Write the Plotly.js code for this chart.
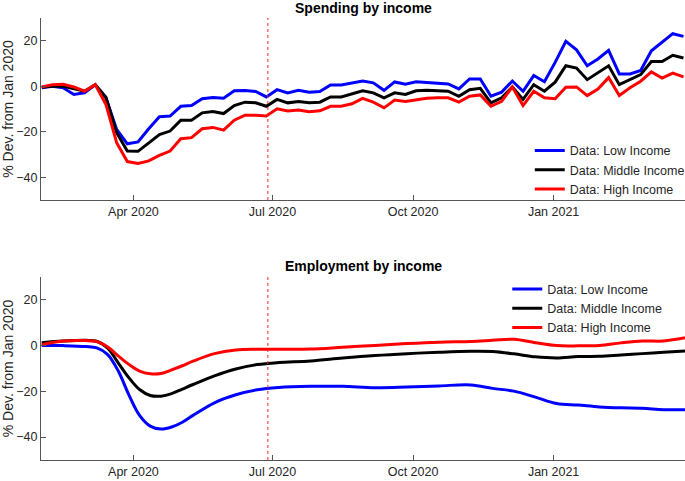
<!DOCTYPE html>
<html>
<head>
<meta charset="utf-8">
<script src="https://cdn.plot.ly/plotly-3.0.1.min.js"></script>
<style>
  body { margin: 0; background: #fff; }
  #chart { width: 685px; height: 481px; }
</style>
</head>
<body>
<div id="chart"></div>
<script>
// weekly spending, % deviation from Jan 2020 (first week = 2020-02-01)
const spendLow = [-0.7, 0, -0.7, -3.6, -2.9, 0.6, -5.1, -19, -25.3, -24.5,
  -18.7, -13.4, -13.1, -8.8, -8.5, -5.5, -5, -5.3, -2, -1.9,
  -2.3, -4.7, -1.5, -2.9, -1.8, -2.6, -2.3, 0.6, 0.6, 1.3,
  2.3, 1.5, -1.8, 1.9, 0.9, 2, 1.6, 1.2, 1, -1.2,
  3.2, 3.2, -4.4, -2.6, 2.3, -2.2, 4.7, 2, 10.5, 19.7,
  16, 9, 12, 15.8, 5.4, 5.4, 6.9, 15.6, 19.3, 23.1, 21.9];
const spendMid = [-0.4, 0.1, 0, -1.2, -2.2, 0.7, -4.8, -20.4, -28.5, -28.6,
  -24.8, -21.2, -19.7, -14.9, -14.9, -11.7, -11.1, -12, -8.5, -7,
  -7.3, -8.8, -5.8, -7.3, -6.7, -7.3, -7, -4.7, -4.7, -3.2,
  -2, -2.9, -5.1, -2.9, -3.6, -2, -1.8, -2, -2.2, -4.4,
  -1.5, -0.9, -7.3, -5.1, -0.3, -5.8, 0.7, -2.2, 1.8, 9,
  8, 2.9, 5.8, 9, 0.7, 2.9, 5.1, 10.9, 10.9, 13.6, 12.4];
const spendHigh = [-0.3, 0.7, 0.9, -0.3, -2.2, 0.7, -8, -24.8, -33.1, -33.9,
  -32.8, -30.4, -28.5, -23.1, -22.6, -18.7, -18.1, -19.3, -14.9, -12.7,
  -12.7, -13.1, -9.9, -10.9, -10.5, -11.2, -10.8, -8.8, -8.8, -7.7,
  -5.3, -7, -9.5, -6.1, -6.7, -6.1, -5.3, -5.1, -5.1, -7,
  -4.4, -3.8, -8.8, -6.6, -0.3, -8.5, -2.2, -5.1, -5.5, -0.4,
  -0.3, -4.1, -1.2, 3.8, -4.1, -0.7, 2.2, 6.3, 3.6, 5.8, 4.1];

// employment, % deviation from Jan 2020
const empDates = ['2020-02-01', '2020-02-15', '2020-03-01', '2020-03-08', '2020-03-15',
  '2020-03-22', '2020-03-29', '2020-04-05', '2020-04-12', '2020-04-19',
  '2020-04-26', '2020-05-03', '2020-05-10', '2020-05-24', '2020-06-07',
  '2020-06-21', '2020-07-05', '2020-07-26', '2020-08-16', '2020-09-06',
  '2020-09-27', '2020-10-18', '2020-11-08', '2020-11-22', '2020-12-06',
  '2020-12-20', '2021-01-03', '2021-01-17', '2021-01-31', '2021-02-14',
  '2021-02-28', '2021-03-14', '2021-03-28'];
const empLow = [0.1, 0, -0.4, -1, -3.8, -11, -21.5, -30.5, -35.2, -36.5,
  -35.6, -33.5, -30.5, -25, -21.5, -19.3, -18.3, -17.8, -17.8, -18.4,
  -18.1, -17.6, -17.2, -18.7, -19.9, -22.5, -25.3, -26, -26.8, -27.2,
  -27.4, -28, -28];
const empMid = [1.3, 2, 2.3, 1.9, -1, -7.5, -14, -19.2, -21.8, -22.1,
  -21, -19, -17, -13.2, -10.2, -8.3, -7.4, -6.7, -5.4, -4.3,
  -3.5, -2.9, -2.5, -2.6, -3.6, -4.9, -5.4, -4.8, -4.7, -4.1,
  -3.5, -2.9, -2.3];
const empHigh = [0.4, 2, 2.2, 1.8, -0.5, -4.5, -8.2, -11.1, -12.3, -12.2,
  -10.6, -8.8, -6.8, -3.5, -1.9, -1.6, -1.6, -1.5, -0.7, 0.1,
  0.9, 1.5, 1.8, 2.3, 2.8, 1.3, 0, -0.1, 0.1, 1.2,
  2, 2, 3.4];

const seriesNames = ['Data: Low Income', 'Data: Middle Income', 'Data: High Income'];
const seriesColors = ['#0000ff', '#000000', '#ff0000'];
const tickDates = ['2020-04-01', '2020-07-01', '2020-10-01', '2021-01-01'];
const tickLabels = ['Apr 2020', 'Jul 2020', 'Oct 2020', 'Jan 2021'];
const yTicks = [-40, -20, 0, 20];
const markerDate = '2020-06-28';

// weekly x positions for the spending series
const spendDates = spendLow.map((_, i) =>
  new Date(Date.UTC(2020, 1, 1 + 7 * i)).toISOString().slice(0, 10));

const FONT = 'Liberation Sans, Arial, Helvetica, sans-serif';

const traces = [];
[spendLow, spendMid, spendHigh].forEach((ys, k) => {
  traces.push({
    x: spendDates, y: ys, type: 'scatter', mode: 'lines',
    name: seriesNames[k], line: { color: seriesColors[k], width: 3 },
    xaxis: 'x', yaxis: 'y', legend: 'legend',
  });
});
[empLow, empMid, empHigh].forEach((ys, k) => {
  traces.push({
    x: empDates, y: ys, type: 'scatter', mode: 'lines',
    name: seriesNames[k], line: { color: seriesColors[k], width: 3, shape: 'spline', smoothing: 1 },
    xaxis: 'x2', yaxis: 'y2', legend: 'legend2',
  });
});

const axisBase = {
  showline: true, linecolor: '#555', linewidth: 1, mirror: false,
  ticks: 'inside', ticklen: 5, tickcolor: '#555', tickwidth: 1,
  showgrid: false, zeroline: false, automargin: false,
  tickfont: { size: 12.5, color: '#262626' },
};
const xBase = {
  ...axisBase, type: 'date', range: ['2020-01-31 12:00', '2021-03-28'],
  tickmode: 'array', tickvals: tickDates, ticktext: tickLabels,
};
const yBase = {
  ...axisBase, range: [-50, 30], tickmode: 'array', tickvals: yTicks,
  title: { text: '% Dev. from Jan 2020', font: { size: 14, color: '#262626' } },
};

const legendBase = {
  xanchor: 'left', yanchor: 'middle', bgcolor: 'rgba(0,0,0,0)',
  font: { size: 12.5, color: '#262626' },
};

const vline = (xr, yr) => ({
  type: 'line', xref: xr, yref: yr + ' domain', x0: markerDate, x1: markerDate,
  y0: 0, y1: 1, line: { color: '#ff2020', width: 1, dash: 'dot' },
});

const layout = {
  width: 685, height: 481,
  // legends sit inside the plots, so keep them from pushing the margins
  margin: { l: 41, r: 0, t: 0, b: 0, autoexpand: false },
  paper_bgcolor: '#fff', plot_bgcolor: '#fff',
  font: { family: FONT, color: '#262626' },
  showlegend: true,
  xaxis: { ...xBase, anchor: 'y', domain: [0, 1] },
  yaxis: { ...yBase, anchor: 'x', domain: [0.5842, 0.9626] },
  xaxis2: { ...xBase, anchor: 'y2', domain: [0, 1] },
  yaxis2: { ...yBase, anchor: 'x2', domain: [0.0437, 0.4241] },
  legend: { ...legendBase, x: 0.759, y: 0.6466 },
  legend2: { ...legendBase, x: 0.724, y: 0.359 },
  shapes: [vline('x', 'y'), vline('x2', 'y2')],
  annotations: [
    { text: '<b>Spending by income</b>', xref: 'paper', yref: 'paper', x: 0.5, y: 0.983,
      yanchor: 'middle', showarrow: false, font: { size: 14, color: '#000' } },
    { text: '<b>Employment by income</b>', xref: 'paper', yref: 'paper', x: 0.5, y: 0.447,
      yanchor: 'middle', showarrow: false, font: { size: 14, color: '#000' } },
  ],
};

Plotly.newPlot('chart', traces, layout, { displayModeBar: false, staticPlot: true });
</script>
</body>
</html>
